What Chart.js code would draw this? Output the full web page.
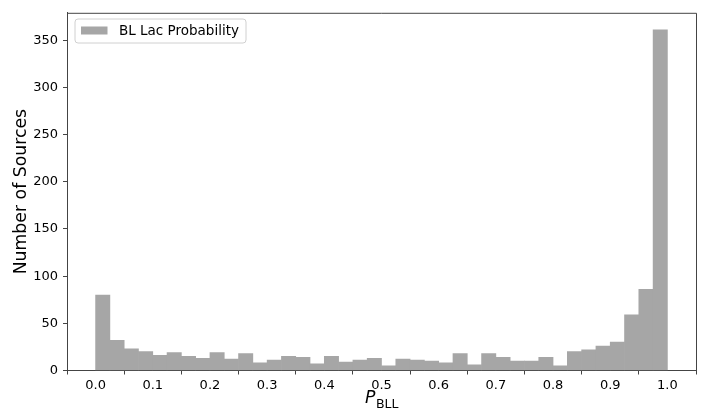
<!DOCTYPE html>
<html>
<head>
<meta charset="utf-8">
<script src="https://cdn.jsdelivr.net/npm/chart.js@4.4.1/dist/chart.umd.min.js"></script>
<style>
  html, body { margin: 0; padding: 0; background: #fff; }
  #wrap { width: 705px; height: 412px; position: relative; }
</style>
</head>
<body>
<div id="wrap"><canvas id="c" width="705" height="412"></canvas></div>
<script>
// Histogram bins (lower edges) and counts
const binLeftEdges = [0.000,0.025,0.050,0.075,0.100,0.125,0.150,0.175,0.200,0.225,
                      0.250,0.275,0.300,0.325,0.350,0.375,0.400,0.425,0.450,0.475,
                      0.500,0.525,0.550,0.575,0.600,0.625,0.650,0.675,0.700,0.725,
                      0.750,0.775,0.800,0.825,0.850,0.875,0.900,0.925,0.950,0.975];
const binWidth = 0.025;
const counts = [80,32,23,20,16,19,15,13,19,12,
                18,8,11,15,14,7,15,9,11,13,
                5,12,11,10,8,18,6,18,14,10,
                10,14,5,20,22,26,30,59,86,361];
const xTickValues = [0.0,0.1,0.2,0.3,0.4,0.5,0.6,0.7,0.8,0.9,1.0];
const yTickValues = [0,50,100,150,200,250,300,350];
const seriesLabel = 'BL Lac Probability';
const yTitle = 'Number of Sources';
const xTitleMain = 'P';
const xTitleSub = 'BLL';

const FONT = '"DejaVu Sans", sans-serif';
const BAR_COLOR = '#a6a6a6';
const AXIS_COLOR = '#444';

const frameAndText = {
  id: 'frameAndText',
  afterDraw(chart) {
    const ctx = chart.ctx;
    const a = chart.chartArea;
    ctx.save();
    // frame (top & right spines)
    ctx.strokeStyle = AXIS_COLOR;
    ctx.lineWidth = 1;
    ctx.beginPath();
    ctx.moveTo(a.left, a.top + 0.5);
    ctx.lineTo(a.right + 0.5, a.top + 0.5);
    ctx.lineTo(a.right + 0.5, a.bottom);
    ctx.stroke();

    // legend
    const lx = 75, ly = 19, lw = 171, lh = 24, r = 3;
    ctx.fillStyle = 'rgba(255,255,255,0.85)';
    ctx.strokeStyle = '#d0d0d0';
    ctx.beginPath();
    ctx.moveTo(lx + r, ly);
    ctx.lineTo(lx + lw - r, ly);
    ctx.quadraticCurveTo(lx + lw, ly, lx + lw, ly + r);
    ctx.lineTo(lx + lw, ly + lh - r);
    ctx.quadraticCurveTo(lx + lw, ly + lh, lx + lw - r, ly + lh);
    ctx.lineTo(lx + r, ly + lh);
    ctx.quadraticCurveTo(lx, ly + lh, lx, ly + lh - r);
    ctx.lineTo(lx, ly + r);
    ctx.quadraticCurveTo(lx, ly, lx + r, ly);
    ctx.closePath();
    ctx.fill();
    ctx.stroke();
    ctx.fillStyle = BAR_COLOR;
    ctx.fillRect(81, 26.5, 26.5, 8);
    ctx.fillStyle = '#000';
    ctx.font = '13.5px ' + FONT;
    ctx.textAlign = 'left';
    ctx.textBaseline = 'middle';
    ctx.fillText(seriesLabel, 119, 31);

    // y title
    ctx.save();
    ctx.translate(22, (a.top + a.bottom) / 2);
    ctx.rotate(-Math.PI / 2);
    ctx.font = '17.3px ' + FONT;
    ctx.textAlign = 'center';
    ctx.textBaseline = 'middle';
    ctx.fillText(yTitle, 0, 0);
    ctx.restore();

    // x title: italic P with subscript BLL
    ctx.font = 'italic 17.3px ' + FONT;
    const wP = ctx.measureText(xTitleMain).width;
    ctx.font = '12.5px ' + FONT;
    const wS = ctx.measureText(xTitleSub).width;
    const cx = (a.left + a.right) / 2;
    const startX = cx - (wP + wS) / 2;
    ctx.textAlign = 'left';
    ctx.textBaseline = 'alphabetic';
    ctx.font = 'italic 17.3px ' + FONT;
    ctx.fillText(xTitleMain, startX, 403);
    ctx.font = '12.5px ' + FONT;
    ctx.fillText(xTitleSub, startX + wP + 0.5, 407.5);
    ctx.restore();
  }
};

new Chart(document.getElementById('c'), {
  type: 'bar',
  data: {
    datasets: [{
      label: seriesLabel,
      data: binLeftEdges.map((e, i) => ({ x: e + binWidth / 2, y: counts[i] })),
      backgroundColor: BAR_COLOR,
      borderWidth: 0,
      barPercentage: 1.0,
      categoryPercentage: 1.0,
      grouped: false
    }]
  },
  options: {
    responsive: false,
    animation: false,
    devicePixelRatio: 1,
    layout: { padding: { top: 12, right: 9, left: 0, bottom: 0 } },
    plugins: { legend: { display: false }, tooltip: { enabled: false } },
    scales: {
      x: {
        type: 'linear',
        min: -0.05,
        max: 1.05,
        offset: false,
        afterBuildTicks(scale) { scale.ticks = xTickValues.map(v => ({ value: v })); },
        afterFit(scale) { scale.height = 41.5; },
        grid: { display: true, drawOnChartArea: false, drawTicks: true, tickLength: 4, color: AXIS_COLOR },
        border: { display: true, color: AXIS_COLOR, width: 1 },
        ticks: {
          color: '#000',
          font: { family: FONT, size: 13 },
          padding: 3,
          maxRotation: 0,
          autoSkip: false,
          callback: (v) => Number(v).toFixed(1)
        }
      },
      y: {
        type: 'linear',
        min: 0,
        max: 379.05,
        afterBuildTicks(scale) { scale.ticks = yTickValues.map(v => ({ value: v })); },
        afterFit(scale) { scale.width = 67; },
        grid: { display: true, drawOnChartArea: false, drawTicks: true, tickLength: 4, color: AXIS_COLOR },
        border: { display: true, color: AXIS_COLOR, width: 1 },
        ticks: {
          color: '#000',
          font: { family: FONT, size: 13 },
          padding: 5,
          autoSkip: false,
          callback: (v) => String(v)
        }
      }
    }
  },
  plugins: [frameAndText]
});
</script>
</body>
</html>
